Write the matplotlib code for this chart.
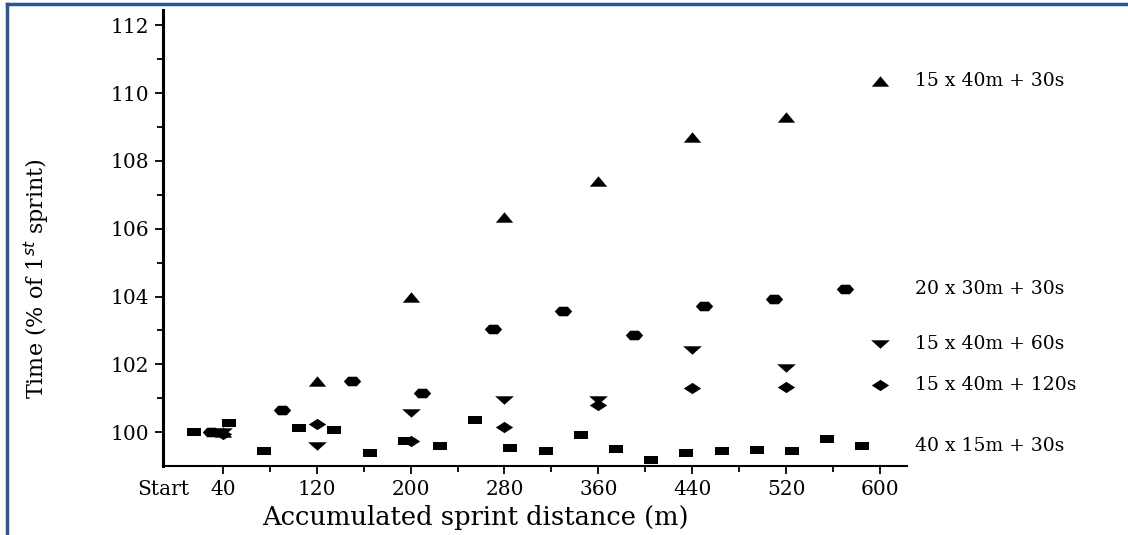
import numpy as np
import matplotlib
matplotlib.use("Agg")
import matplotlib.pyplot as plt
from matplotlib.lines import Line2D

# sprint protocols (accumulated distance in m, time as % of 1st sprint)
tri_up_x = [40, 120, 200, 280, 360, 440, 520, 600]
tri_up_y = [100.0, 101.51, 104.0, 106.36, 107.40, 108.70, 109.29, 110.36]

circle_x = [30, 90, 150, 210, 270, 330, 390, 450, 510, 570]
circle_y = [100.0, 100.64, 101.51, 101.14, 103.03, 103.56, 102.87, 103.73, 103.92, 104.23]

tri_down_x = [40, 120, 200, 280, 360, 440, 520, 600]
tri_down_y = [100.0, 99.58, 100.55, 100.94, 100.95, 102.42, 101.88, 102.59]

diamond_x = [40, 120, 200, 280, 360, 440, 520, 600]
diamond_y = [99.93, 100.23, 99.75, 100.15, 100.80, 101.31, 101.34, 101.40]

square_x = [15, 45, 75, 105, 135, 165, 195, 225, 255, 285,
            315, 345, 375, 405, 435, 465, 495, 525, 555, 585]
square_y = [100.0, 100.28, 99.44, 100.12, 100.05, 99.39, 99.75, 99.59, 100.35, 99.54,
            99.43, 99.92, 99.51, 99.19, 99.39, 99.43, 99.48, 99.43, 99.81, 99.60]

labels = ["15 x 40m + 30s", "20 x 30m + 30s", "15 x 40m + 60s",
          "15 x 40m + 120s", "40 x 15m + 30s"]

x_ticks = [40, 120, 200, 280, 360, 440, 520, 600]
x_minor = [80, 160, 240, 320, 400, 480, 560]
y_ticks = [100, 102, 104, 106, 108, 110, 112]
y_minor = [101, 103, 105, 107, 109, 111]

# squat marker shapes
m_tri_up = [(-1, -0.6), (1, -0.6), (0, 0.6)]
m_tri_down = [(-1, 0.45), (1, 0.45), (0, -0.45)]
m_square = [(-1, -0.62), (1, -0.62), (1, 0.62), (-1, 0.62)]
m_diamond = [(-1, 0), (0, 0.65), (1, 0), (0, -0.65)]
m_hex = [(1, 0), (0.5, 0.55), (-0.5, 0.55), (-1, 0), (-0.5, -0.55), (0.5, -0.55)]

plt.rcParams["font.family"] = "DejaVu Serif"

fig = plt.figure(figsize=(11.28, 5.35), dpi=100)
ax = fig.add_axes([0.1445, 0.129, 0.6595, 0.852])

series = [
    (tri_up_x, tri_up_y, m_tri_up, 12.5),
    (circle_x, circle_y, m_hex, 12.5),
    (tri_down_x, tri_down_y, m_tri_down, 13.5),
    (diamond_x, diamond_y, m_diamond, 12.5),
    (square_x, square_y, m_square, 10),
]
for (xs, ys, mk, ms), lab in zip(series, labels):
    ax.plot(xs, ys, linestyle="none", marker=mk, markersize=ms,
            color="black", markeredgewidth=0)
    # label next to the last point
    ax.text(630, ys[-1], lab, fontsize=13.5, va="center", ha="left", clip_on=False)

ax.set_xlim(-11, 623)
ax.set_ylim(99, 112.45)

ax.set_xticks([-11] + x_ticks)
ax.set_xticklabels(["Start"] + [str(v) for v in x_ticks])
ax.set_xticks(x_minor, minor=True)
ax.xaxis.get_major_ticks()[0].tick1line.set_visible(False)
ax.set_yticks(y_ticks)
ax.set_yticks(y_minor, minor=True)

ax.tick_params(axis="both", which="major", direction="out", length=6, width=1.3,
               labelsize=14.5, pad=4)
ax.tick_params(axis="both", which="minor", direction="out", length=4, width=1.3)

for side in ["top", "right"]:
    ax.spines[side].set_visible(False)
ax.spines["left"].set_linewidth(2.2)
ax.spines["bottom"].set_linewidth(1.5)

fig.text(0.421, 0.032, "Accumulated sprint distance (m)", fontsize=18.5,
         ha="center", va="center")
fig.text(0.033, 0.48, "Time (% of 1$^{st}$ sprint)", fontsize=16,
         rotation=90, ha="center", va="center")

# blue frame round the picture
fig.add_artist(Line2D([0.0065, 0.0065], [0, 0.993], color="#2b5592", lw=2.5))
fig.add_artist(Line2D([0.0065, 1], [0.993, 0.993], color="#2b5592", lw=2.5))

fig.savefig("out.png", dpi=100)
